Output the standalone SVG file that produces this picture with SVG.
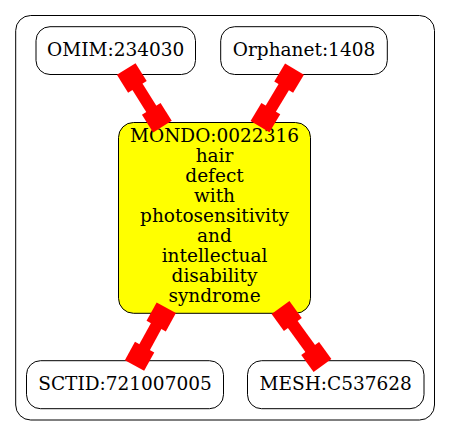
<svg xmlns="http://www.w3.org/2000/svg" width="451" height="436" viewBox="0 0 451 436">
<style>
.cluster{fill:#ffffff;stroke:#000000;stroke-width:1}
.node{fill:#ffffff;stroke:#000000;stroke-width:1}
.main{fill:#ffff00;stroke:#000000;stroke-width:1}
.lbl{font-family:"DejaVu Serif","Liberation Serif",serif;font-size:18.5px;fill:#000000;text-anchor:middle}
.edge rect{fill:#ff0000;stroke:none}
</style>
<rect width="451" height="436" fill="#ffffff"/>
<rect class="cluster" x="15.7" y="15.5" width="418.8" height="404.5" rx="15" ry="15"/>
<g id="node-omim">
<rect class="node" x="36" y="26.7" width="159.5" height="47.8" rx="14" ry="14"/>
<text class="lbl" x="115.7" y="56.2">OMIM:234030</text>
</g>
<g id="node-orphanet">
<rect class="node" x="220.7" y="26.7" width="166.6" height="47.8" rx="14" ry="14"/>
<text class="lbl" x="304" y="56.2">Orphanet:1408</text>
</g>
<g id="node-mondo">
<rect class="main" x="118.5" y="122.5" width="192" height="190.8" rx="15" ry="15"/>
<text class="lbl" x="214.5" y="142">MONDO:0022316</text>
<text class="lbl" x="214.5" y="162">hair</text>
<text class="lbl" x="214.5" y="182">defect</text>
<text class="lbl" x="214.5" y="202">with</text>
<text class="lbl" x="214.5" y="222">photosensitivity</text>
<text class="lbl" x="214.5" y="242">and</text>
<text class="lbl" x="214.5" y="262">intellectual</text>
<text class="lbl" x="214.5" y="282">disability</text>
<text class="lbl" x="214.5" y="302">syndrome</text>
</g>
<g id="node-sctid">
<rect class="node" x="26.5" y="360.7" width="197" height="48" rx="14" ry="14"/>
<text class="lbl" x="125" y="390">SCTID:721007005</text>
</g>
<g id="node-mesh">
<rect class="node" x="247.5" y="360.7" width="176.5" height="48" rx="14" ry="14"/>
<text class="lbl" x="335.7" y="390">MESH:C537628</text>
</g>
<g id="connectors">
<g class="edge" transform="translate(126.2,69) rotate(57.8)">
<rect x="0" y="-11" width="21" height="22"/>
<rect x="20" y="-6" width="28" height="12"/>
<rect x="47" y="-11" width="21" height="22"/>
</g>
<g class="edge" transform="translate(294.5,69.2) rotate(121)">
<rect x="0" y="-11" width="21" height="22"/>
<rect x="20" y="-6" width="27" height="12"/>
<rect x="46" y="-11" width="21" height="22"/>
</g>
<g class="edge" transform="translate(166.3,307.7) rotate(118.8)">
<rect x="0" y="-11" width="21" height="22"/>
<rect x="20" y="-6" width="26" height="12"/>
<rect x="45" y="-11" width="21" height="22"/>
</g>
<g class="edge" transform="translate(280.5,307.5) rotate(54.1)">
<rect x="0" y="-11" width="21" height="22"/>
<rect x="20" y="-6" width="31.6" height="12"/>
<rect x="50.6" y="-11" width="21" height="22"/>
</g>
</g>
</svg>
